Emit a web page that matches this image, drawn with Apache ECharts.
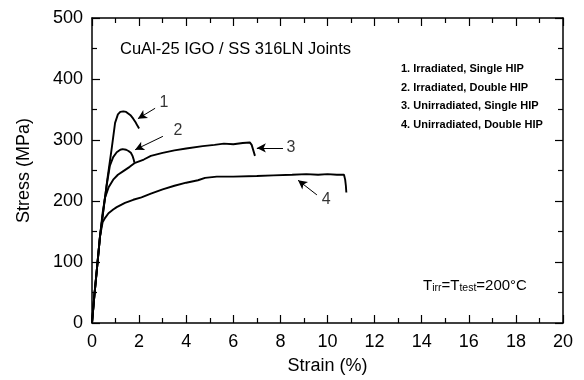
<!DOCTYPE html>
<html><head><meta charset="utf-8">
<script src="https://cdn.jsdelivr.net/npm/echarts@6/dist/echarts.min.js"></script>
<style>html,body{margin:0;padding:0;background:#fff}#c{width:584px;height:380px}</style>
</head><body><div id="c"></div>
<script>
// Curve 1: Irradiated, Single HIP
const strain1 = [0, 0.1, 0.2, 0.34, 0.5, 0.65, 0.84, 0.98, 1.1, 1.2, 1.33, 1.45, 1.55, 1.65, 1.75, 1.85, 1.92, 2.0];
const stress1 = [0, 45, 85, 142, 190, 235, 287, 328, 342, 346, 347, 346, 343, 340, 335, 329, 324, 319];
// Curve 2: Irradiated, Double HIP
const strain2 = [0, 0.1, 0.2, 0.34, 0.5, 0.62, 0.76, 0.9, 1.05, 1.2, 1.3, 1.45, 1.55, 1.65, 1.72, 1.77, 1.8];
const stress2 = [0, 45, 85, 142, 190, 225, 258, 272, 280, 284, 285, 284, 282, 279, 274, 268, 263];
// Curve 3: Unirradiated, Single HIP
const strain3 = [0, 0.1, 0.2, 0.34, 0.45, 0.55, 0.7, 0.9, 1.1, 1.33, 1.6, 1.8, 2.2, 2.5, 3.0, 3.5, 4.0, 4.7, 5.2, 5.6, 6.0, 6.4, 6.7, 6.78, 6.85, 6.92];
const stress3 = [0, 45, 85, 142, 180, 205, 222, 235, 243, 249, 256, 262, 268, 274, 279, 283, 286, 290, 292, 294, 293, 295, 296, 292, 283, 274];
// Curve 4: Unirradiated, Double HIP
const strain4 = [0, 0.1, 0.2, 0.34, 0.45, 0.55, 0.7, 0.9, 1.05, 1.4, 1.75, 2.1, 2.5, 3.0, 3.5, 4.0, 4.5, 4.8, 5.3, 6.0, 7.0, 7.7, 8.5, 9.1, 9.6, 10.0, 10.4, 10.7, 10.75, 10.78, 10.8];
const stress4 = [0, 45, 85, 142, 165, 172, 180, 186, 190, 197, 202, 206, 212, 219, 225, 230, 234, 238, 240, 240, 241, 242, 243, 244, 243, 244, 243, 243, 235, 225, 214];

// Annotation labels and arrows (data units)
const curveLabels = ['1', '2', '3', '4'];
const labelPos = [[3.06, 361], [3.65, 316], [8.45, 287], [9.94, 202]];
const arrowFrom = [[2.68, 352], [3.01, 306], [8.11, 287], [9.55, 210]];
const arrowTo = [[1.95, 335], [1.83, 284], [7.0, 287], [8.75, 234]];

const xTicks = [0, 2, 4, 6, 8, 10, 12, 14, 16, 18, 20];
const yTicks = [0, 100, 200, 300, 400, 500];

const legendLines = ['1. Irradiated, Single HIP', '2. Irradiated, Double HIP', '3. Unirradiated, Single HIP', '4. Unirradiated, Double HIP'];

const F = 'Liberation Sans, Arial, sans-serif';
function zip(a, b) { return a.map((v, i) => [v, b[i]]); }
const curves = [zip(strain1, stress1), zip(strain2, stress2), zip(strain3, stress3), zip(strain4, stress4)];

const axisCommon = {
  type: 'value',
  axisLine: { show: true, onZero: false, lineStyle: { color: '#000', width: 1.5 } },
  axisTick: { show: true, inside: true, length: 8, lineStyle: { color: '#000', width: 1.2 } },
  minorTick: { show: true, splitNumber: 2, length: 5, lineStyle: { color: '#000', width: 1.2 } },
  splitLine: { show: false },
  minorSplitLine: { show: false }
};

const series = curves.map((d, i) => ({
  type: 'line', data: d, showSymbol: false, symbol: 'none',
  lineStyle: { color: '#000', width: 1.9 }, z: 3,
  markLine: {
    silent: true, symbol: ['none', 'arrow'], symbolSize: [7, 9],
    lineStyle: { color: '#000', width: 1, type: 'solid' },
    label: { show: false },
    data: [[{ coord: arrowFrom[i] }, { coord: arrowTo[i] }]]
  }
}));
series.push({
  type: 'scatter', symbolSize: 0,
  data: labelPos.map((p, i) => ({ value: p, name: curveLabels[i] })),
  label: { show: true, position: 'inside', formatter: p => p.name, color: '#000', fontFamily: F, fontSize: 16 },
  z: 5
});

const chart = echarts.init(document.getElementById('c'), null, { renderer: 'canvas' });
chart.setOption({
  animation: false,
  backgroundColor: '#fff',
  grid: { left: 92, right: 21, top: 18, bottom: 52, containLabel: false },
  xAxis: [
    Object.assign({}, axisCommon, {
      min: xTicks[0], max: xTicks[xTicks.length - 1], interval: 2, position: 'bottom',
      name: 'Strain (%)', nameLocation: 'middle', nameGap: 34,
      nameTextStyle: { color: '#000', fontFamily: F, fontSize: 18 },
      axisLabel: { color: '#000', fontFamily: F, fontSize: 18, margin: 10 }
    }),
    Object.assign({}, axisCommon, {
      min: xTicks[0], max: xTicks[xTicks.length - 1], interval: 2, position: 'top',
      axisLabel: { show: false }
    })
  ],
  yAxis: [
    Object.assign({}, axisCommon, {
      min: yTicks[0], max: yTicks[yTicks.length - 1], interval: 100, position: 'left',
      name: 'Stress (MPa)', nameLocation: 'middle', nameGap: 59, nameRotate: 90,
      nameTextStyle: { color: '#000', fontFamily: F, fontSize: 18 },
      axisLabel: { color: '#000', fontFamily: F, fontSize: 18, margin: 9 }
    }),
    Object.assign({}, axisCommon, {
      min: yTicks[0], max: yTicks[yTicks.length - 1], interval: 100, position: 'right',
      axisLabel: { show: false }
    })
  ],
  graphic: [
    { type: 'text', left: 120, top: 41, style: { text: 'CuAl-25 IGO / SS 316LN Joints', fill: '#000', font: '16.5px ' + F } },
    { type: 'text', left: 401, top: 60, style: { text: legendLines.join('\n'), fill: '#000', font: 'bold 11px ' + F, lineHeight: 18.5 } },
    { type: 'text', left: 423, top: 278, style: {
        text: 'T{s|irr}=T{s|test}=200°C', fill: '#000', font: '15px ' + F,
        rich: { s: { fontSize: 10.5, fontFamily: F, verticalAlign: 'bottom', padding: [6, 0, 0, 0], fill: '#000' } }
    } }
  ],
  series: series
});
</script>
</body></html>
